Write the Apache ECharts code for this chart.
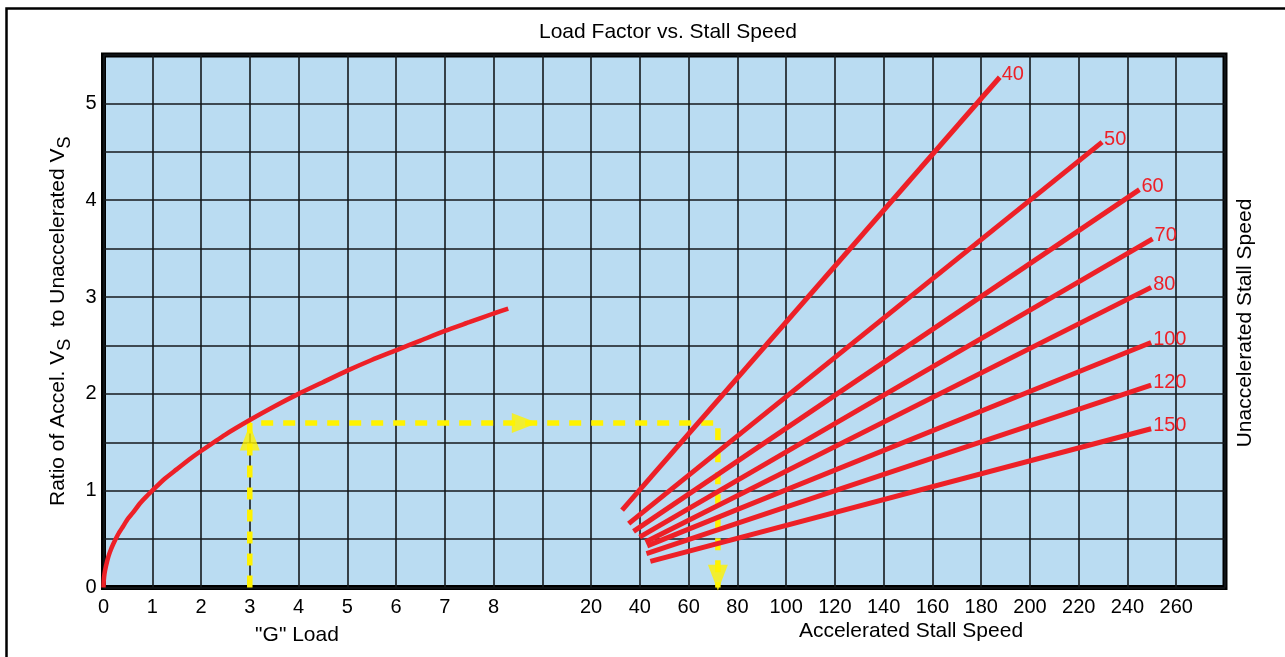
<!DOCTYPE html>
<html>
<head>
<meta charset="utf-8">
<title>Load Factor vs. Stall Speed</title>
<script src="https://cdn.jsdelivr.net/npm/echarts@6/dist/echarts.min.js"></script>
<style>
  html, body { margin: 0; padding: 0; background: #fff; }
  #chart { width: 1285px; height: 657px; }
</style>
</head>
<body>
<div id="chart"></div>
<script>
// "G" load curve
var gLoad = [0, 0.005, 0.02, 0.05, 0.1, 0.15, 0.2, 0.3, 0.4, 0.5, 0.6, 0.75, 0.9, 1, 1.25, 1.5, 1.75, 2, 2.5, 3, 3.5, 4, 4.5, 5, 5.5, 6, 6.5, 7, 7.5, 8, 8.3];
var gRatio = [0, 0.07, 0.14, 0.22, 0.32, 0.39, 0.45, 0.55, 0.63, 0.71, 0.77, 0.87, 0.95, 1, 1.12, 1.22, 1.32, 1.41, 1.58, 1.73, 1.87, 2, 2.12, 2.24, 2.35, 2.45, 2.55, 2.65, 2.74, 2.83, 2.88];

// one straight line per unaccelerated stall speed (start / end as accel. stall speed + ratio)
var stallSpeeds = [40, 50, 60, 70, 80, 100, 120, 150];
var startSpeed = [32.7, 35.4, 37.4, 39.9, 42.3, 43.0, 42.7, 44.3];
var startRatio = [0.80, 0.66, 0.58, 0.52, 0.47, 0.43, 0.35, 0.27];
var endSpeed = [187.6, 229.6, 244.9, 250.3, 249.7, 249.7, 249.7, 249.7];
var endRatio = [5.27, 4.60, 4.11, 3.60, 3.10, 2.53, 2.09, 1.64];

// tick labels
var gTicks = [0, 1, 2, 3, 4, 5, 6, 7, 8];
var speedTicks = [20, 40, 60, 80, 100, 120, 140, 160, 180, 200, 220, 240, 260];
var ratioTicks = [0, 1, 2, 3, 4, 5];

// worked example: 3 G -> ratio 1.7 -> about 72 accelerated stall speed
var exampleG = 3;
var exampleRatio = 1.7;
var exampleSpeed = 72;

// both scales share one x axis: G load 0..8 on cells 0..8, speed starts at cell 9 (20 per cell)
var SPEED_ORIGIN = 9;
function speedX(s) { return SPEED_ORIGIN + s / 20; }

var tickText = {};
gTicks.forEach(function (g) { tickText[g] = String(g); });
speedTicks.forEach(function (s) { tickText[speedX(s)] = String(s); });

var RED = '#ed2027';
var YELLOW = '#fff200';
var GRIDLINE = '#15191c';
var FONT = 'Liberation Sans, Arial, Helvetica, sans-serif';

var series = [];

series.push({
  type: 'line',
  data: gLoad.map(function (g, i) { return [g, gRatio[i]]; }),
  smooth: 0.2,
  showSymbol: false,
  clip: false,
  lineStyle: { color: RED, width: 4.5 },
  z: 5
});

stallSpeeds.forEach(function (v, i) {
  series.push({
    type: 'line',
    data: [
      [speedX(startSpeed[i]), startRatio[i]],
      [speedX(endSpeed[i]), endRatio[i]]
    ],
    symbol: 'none',
    clip: false,
    lineStyle: { color: RED, width: 5, cap: 'butt' },
    endLabel: {
      show: true,
      distance: 2,
      offset: [0, -3],
      formatter: String(v),
      color: RED,
      fontSize: 20,
      fontFamily: FONT
    },
    z: 5
  });
});

// yellow guide path
series.push({
  type: 'line',
  data: [
    [exampleG, 0],
    [exampleG, exampleRatio],
    [speedX(exampleSpeed), exampleRatio],
    [speedX(exampleSpeed), 0]
  ],
  symbol: 'none',
  clip: false,
  lineStyle: { color: YELLOW, width: 5.5, type: [12, 10], cap: 'butt' },
  z: 4
});

// arrow heads on the guide path
series.push({
  type: 'scatter',
  symbol: 'triangle',
  symbolSize: [20, 26],
  itemStyle: { color: YELLOW },
  clip: false,
  data: [
    { value: [exampleG, 1.55], symbolRotate: 0 },
    { value: [8.64, exampleRatio], symbolRotate: -90 },
    { value: [speedX(exampleSpeed), 0.1], symbolRotate: 180 }
  ],
  z: 6
});

var chart = echarts.init(document.getElementById('chart'));
chart.setOption({
  animation: false,
  textStyle: { fontFamily: FONT },
  grid: {
    show: true,
    left: 103.5,
    right: 60,
    top: 55,
    bottom: 69.5,
    backgroundColor: '#badcf2',
    borderColor: '#000',
    borderWidth: 5
  },
  xAxis: {
    type: 'value',
    min: 0,
    max: 23,
    interval: 1,
    axisLine: { show: false },
    axisTick: { show: false },
    splitLine: { lineStyle: { color: GRIDLINE, width: 1.6 } },
    axisLabel: {
      margin: 10,
      color: '#000',
      fontSize: 20,
      fontFamily: FONT,
      showMaxLabel: false,
      formatter: function (v) { return tickText[v] !== undefined ? tickText[v] : ''; }
    }
  },
  yAxis: {
    type: 'value',
    min: 0,
    max: 5.5,
    interval: 0.5,
    axisLine: { show: false },
    axisTick: { show: false },
    splitLine: { lineStyle: { color: GRIDLINE, width: 1.6 } },
    axisLabel: {
      margin: 7,
      color: '#000',
      fontSize: 20,
      fontFamily: FONT,
      formatter: function (v) { return ratioTicks.indexOf(v) >= 0 ? String(v) : ''; }
    },
    name: '{m|Ratio of Accel. V}{s|S}{m|  to Unaccelerated V}{s|S}',
    nameLocation: 'middle',
    nameRotate: 90,
    nameGap: 26,
    nameTextStyle: {
      color: '#000',
      fontSize: 21,
      fontFamily: FONT,
      rich: {
        m: { fontSize: 21, lineHeight: 32, verticalAlign: 'middle', color: '#000', fontFamily: FONT },
        s: { fontSize: 18, lineHeight: 16, verticalAlign: 'bottom', color: '#000', fontFamily: FONT }
      }
    }
  },
  graphic: [
    {
      type: 'rect',
      silent: true,
      shape: { x: 6.5, y: 8.5, width: 1300, height: 700 },
      style: { fill: 'none', stroke: '#000', lineWidth: 2.5 }
    },
    {
      type: 'text',
      x: 668, y: 32,
      style: { text: 'Load Factor vs. Stall Speed', font: '21px ' + FONT, fill: '#000', align: 'center', verticalAlign: 'middle' }
    },
    {
      type: 'text',
      x: 297, y: 635,
      style: { text: '"G" Load', font: '21px ' + FONT, fill: '#000', align: 'center', verticalAlign: 'middle' }
    },
    {
      type: 'text',
      x: 911, y: 631,
      style: { text: 'Accelerated Stall Speed', font: '21px ' + FONT, fill: '#000', align: 'center', verticalAlign: 'middle' }
    },
    {
      type: 'text',
      x: 1245, y: 323,
      rotation: Math.PI / 2,
      style: { text: 'Unaccelerated Stall Speed', font: '21px ' + FONT, fill: '#000', align: 'center', verticalAlign: 'middle' }
    }
  ],
  series: series
});
</script>
</body>
</html>
